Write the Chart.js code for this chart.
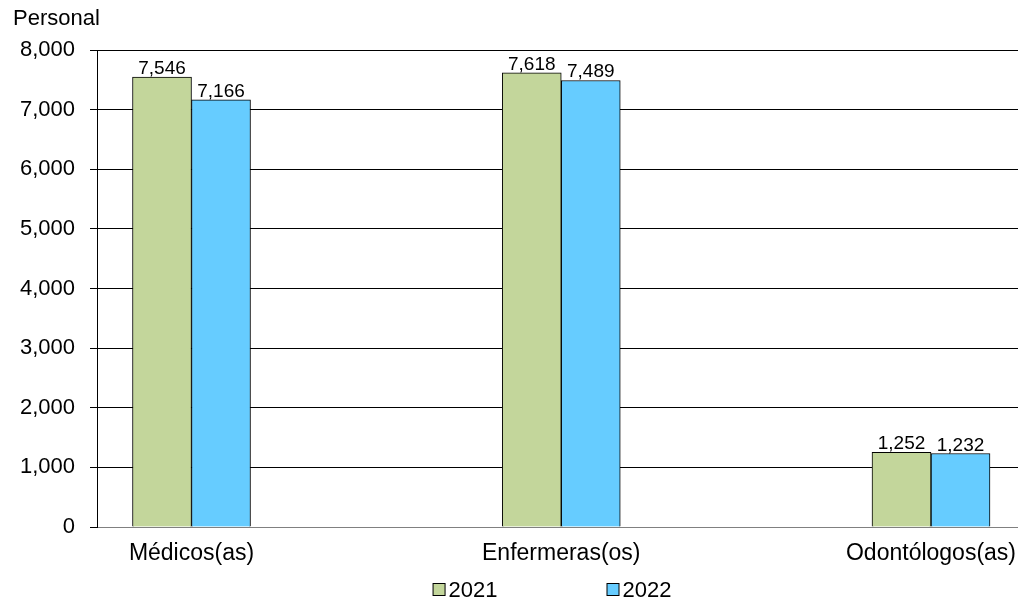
<!DOCTYPE html>
<html>
<head>
<meta charset="utf-8">
<script src="https://cdn.jsdelivr.net/npm/chart.js@4/dist/chart.umd.min.js"></script>
<style>
html,body{margin:0;padding:0;background:#fff;}
#wrap{width:1018px;height:601px;position:relative;}
</style>
</head>
<body>
<div id="wrap"><canvas id="c"></canvas></div>
<script>
// ---- data ----
const categories = ['Médicos(as)', 'Enfermeras(os)', 'Odontólogos(as)'];
const seriesLabels = ['2021', '2022'];
const values2021 = [7546, 7618, 1252];
const values2022 = [7166, 7489, 1232];
const yTickValues = [0, 1000, 2000, 3000, 4000, 5000, 6000, 7000, 8000];
const yAxisTitle = 'Personal';

// ---- styles ----
const FONT = "'Liberation Sans', Arial, sans-serif";
const seriesColors = ['#C3D69B', '#66CCFF'];
const fmt = v => Number(v).toLocaleString('en-US');

Chart.defaults.font.family = FONT;
Chart.defaults.color = '#000';

const valueLabels = {
  id: 'valueLabels',
  afterDatasetsDraw(chart) {
    const ctx = chart.ctx;
    ctx.save();
    ctx.font = '19px ' + FONT;
    ctx.fillStyle = '#000';
    ctx.textAlign = 'center';
    ctx.textBaseline = 'alphabetic';
    chart.data.datasets.forEach((ds, di) => {
      const meta = chart.getDatasetMeta(di);
      meta.data.forEach((el, i) => {
        ctx.fillText(fmt(ds.data[i].y), el.x, el.y - 3);
      });
    });
    ctx.restore();
  }
};

const bottomLegend = {
  id: 'bottomLegend',
  afterDraw(chart) {
    const ctx = chart.ctx;
    ctx.save();
    ctx.font = '22px ' + FONT;
    const box = 13, gapText = 3, gapItem = 109;
    const items = chart.data.datasets.map(ds => ({label: ds.label, color: ds.backgroundColor, w: ctx.measureText(ds.label).width}));
    const total = items.reduce((s, it) => s + box + gapText + it.w, 0) + gapItem * (items.length - 1);
    const ca = chart.chartArea;
    let x = (ca.left + ca.right) / 2 - 5.5 - total / 2;
    const baseY = chart.height - 4;
    items.forEach(it => {
      ctx.fillStyle = it.color;
      ctx.fillRect(x + 0.5, baseY - 13.5, box - 1, box - 1);
      ctx.strokeStyle = '#000';
      ctx.lineWidth = 1;
      ctx.strokeRect(x + 0.5, baseY - 13.5, box - 1, box - 1);
      ctx.fillStyle = '#000';
      ctx.textAlign = 'left';
      ctx.textBaseline = 'alphabetic';
      ctx.fillText(it.label, x + box + gapText, baseY);
      x += box + gapText + it.w + gapItem;
    });
    ctx.restore();
  }
};

const toPoints = arr => arr.map((v, i) => ({x: i, y: v}));

new Chart(document.getElementById('c'), {
  type: 'bar',
  data: {
    datasets: [
      {label: seriesLabels[0], data: toPoints(values2021), backgroundColor: seriesColors[0], borderColor: '#000', borderWidth: 1},
      {label: seriesLabels[1], data: toPoints(values2022), backgroundColor: seriesColors[1], borderColor: '#000', borderWidth: 1}
    ]
  },
  options: {
    responsive: true,
    maintainAspectRatio: false,
    animation: false,
    barThickness: 59,
    layout: {padding: {left: 13, right: 0, top: 0, bottom: 0}},
    plugins: {
      legend: {display: false},
      tooltip: {enabled: false},
      title: {
        display: true,
        text: yAxisTitle,
        align: 'start',
        color: '#000',
        font: {size: 22, weight: 'normal', family: FONT},
        padding: {top: 6, bottom: 17.6}
      }
    },
    scales: {
      x: {
        type: 'linear',
        offset: false,
        min: -0.2556,
        max: 2.2353,
        grid: {display: false, drawTicks: false, offset: false},
        border: {display: true, color: '#808080', width: 1},
        afterBuildTicks: s => { s.ticks = categories.map((c, i) => ({value: i})); },
        ticks: {
          autoSkip: false,
          maxRotation: 0,
          minRotation: 0,
          padding: 13,
          color: '#000',
          font: {size: 23},
          callback: v => categories[v] ?? ''
        },
        afterFit: s => { s.height = 74; s.paddingLeft = 0; s.paddingRight = 0; }
      },
      y: {
        min: 0,
        max: 8000,
        afterBuildTicks: s => { s.ticks = yTickValues.map(v => ({value: v})); },
        grid: {
          color: c => (c.tick && c.tick.value === 0) ? '#808080' : '#000',
          tickColor: '#000',
          lineWidth: 1,
          tickLength: 7,
          drawTicks: true
        },
        border: {display: true, color: '#000', width: 1},
        ticks: {
          padding: 15,
          color: '#000',
          font: {size: 22},
          callback: v => fmt(v)
        },
        afterFit: s => { s.width = 84; }
      }
    }
  },
  plugins: [valueLabels, bottomLegend]
});
</script>
</body>
</html>
